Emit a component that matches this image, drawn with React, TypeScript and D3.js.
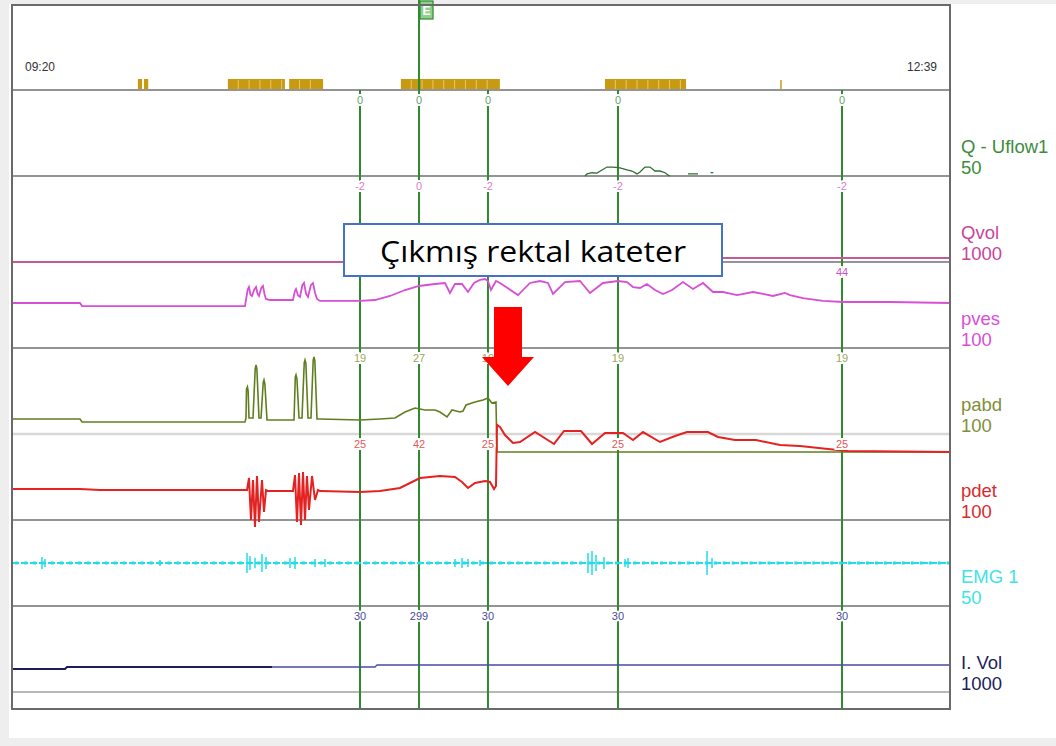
import React from "react";
import * as d3 from "d3";

// ---------- data ----------
const startLabel = "09:20";
const endLabel = "12:39";
const durationMin = 199; // minutes from 09:20 to 12:39

const channelNames = ["Q - Uflow1", "Qvol", "pves", "pabd", "pdet", "EMG 1", "I. Vol"];
const channelRanges = ["50", "1000", "100", "100", "100", "50", "1000"];
const channelMin = [0, 0, 0, 0, 0, -25, 0];
const channelMax = [50, 1000, 100, 100, 100, 25, 1000];
const channelColors = ["#3c8c3c", "#c8459a", "#d84fd8", "#7f8f3a", "#d92b2b", "#3fe3e6", "#1d1d5c"];
const traceColors = ["#2f6f2f", "#c45a96", "#d64fd6", "#5f7f1f", "#e42222", "#22dde6", "#22226e"];

const eventTimes = [73.83, 86.35, 100.98, 128.56, 176.09];
const qEventLabels = ["0", "0", "0", "0", "0"];
const qvolEventLabels = ["-2", "0", "-2", "-2", "-2"];
const pvesEventLabels = ["", "", "", "", "44"];
const pabdEventLabels = ["19", "27", "19", "19", "19"];
const pdetEventLabels = ["25", "42", "25", "25", "25"];
const ivolEventLabels = ["30", "299", "30", "30", "30"];
const eventLabelColors = ["#6a9f6a", "#e07ccc", "#cc55cc", "#9aa85a", "#e05a5a", "#000", "#4a4a96"];

const markerSegments: [number, number][] = [
  [26.7, 27.6], [28.0, 28.9], [45.8, 57.9], [58.8, 66.0], [82.5, 103.5], [125.8, 143.0],
];
const markerTicks = [163.14];

// Q - Uflow1 (ml/s), null = gap
const qData: [number, number | null][] = [
  [121.56, 0], [121.99, 1.2], [123.05, 1.9], [124.11, 1.7], [125.17, 3.5], [126.23, 5.2],
  [127.5, 5.2], [128.99, 4.7], [130.47, 3.5], [131.53, 2.9], [132.6, 1.2], [133.23, 2.3],
  [134.29, 5.2], [135.35, 5.2], [136.41, 2.9], [137.47, 2.9], [138.53, 1.9], [139.17, 0.6],
  [139.6, 0], [140.5, null], [143.42, 1.2], [145.54, 1.2], [146.5, null], [148.2, 2.0], [148.8, 2.0],
];

// Qvol (ml)
const qvolData: [number, number][] = [
  [0, 0], [121.56, 0], [128.99, 12], [135.35, 28], [143.2, 40], [150.84, 46.5], [199, 46.5],
];

// pves (cmH2O)
const pvesData: [number, number][] = [
  [0, 52.3], [14.43, 52.3], [14.85, 48.8], [49.43, 48.8], [49.64, 55.8], [50.0, 68.0], [50.28, 70.9], [50.6, 62.0], [50.92, 60.5],
  [51.4, 68.0], [51.77, 70.9], [52.1, 63.0], [52.4, 60.5], [52.9, 70.0], [53.25, 72.1], [53.6, 62.0], [53.89, 57.0], [54.74, 55.8], [59.61, 55.8],
  [60.0, 66.0], [60.25, 68.6], [60.7, 61.0], [61.1, 59.3], [61.6, 73.0], [61.95, 75.6], [62.4, 63.0], [62.8, 59.3], [63.4, 73.0], [63.86, 75.6], [64.3, 64.0], [64.71, 57.0],
  [65.34, 54.7], [73.83, 54.7], [77.01, 55.8], [80.19, 60.5], [83.38, 67.4], [86.35, 72.1],
  [89.74, 74.4], [91.86, 75.6], [92.92, 64.0], [93.98, 74.4], [95.47, 74.4], [96.74, 65.1],
  [98.01, 75.6], [99.29, 79.1], [100.35, 80.2], [100.98, 77.9], [101.62, 67.4], [102.68, 77.9],
  [103.53, 75.6], [107.35, 61.6], [109.89, 75.6], [112.02, 77.9], [113.71, 75.6], [114.77, 62.8],
  [117.32, 76.7], [120.5, 77.9], [122.62, 64.0], [125.38, 75.6], [128.56, 77.9], [130.47, 76.7],
  [131.75, 70.9], [133.23, 69.8], [134.72, 74.4], [136.41, 67.4], [138.11, 62.8], [140.02, 67.4],
  [142.35, 76.7], [144.48, 68.6], [146.6, 75.6], [148.72, 65.1], [150.84, 65.1], [153.81, 61.6],
  [157.21, 65.1], [159.33, 62.8], [161.45, 60.5], [163.99, 64.0], [165.05, 61.6], [167.81, 58.1],
  [172.05, 54.7], [176.3, 53.5], [186.27, 53.5], [199, 52.3],
];

// pabd (cmH2O)
const pabdData: [number, number][] = [
  [0, 17.4], [14.43, 17.4], [14.85, 14.0], [49.43, 14.0], [49.64, 18.6], [49.75, 52.0], [49.95, 54.7], [50.1, 50.0], [50.28, 18.6],
  [51.13, 18.6], [51.6, 76.0], [51.77, 80.2], [51.95, 76.0], [52.4, 18.6], [52.83, 18.6], [53.3, 60.0], [53.46, 62.8], [53.65, 58.0], [54.1, 16.3],
  [59.83, 16.3], [60.1, 66.0], [60.25, 68.6], [60.45, 64.0], [60.89, 18.6], [61.52, 18.6], [62.0, 83.0], [62.16, 86.0], [62.35, 82.0], [62.8, 18.6],
  [63.43, 18.6], [63.9, 86.0], [64.07, 89.5], [64.25, 85.0], [64.71, 17.4], [65.34, 17.4], [73.83, 16.3], [78.07, 17.4],
  [81.25, 18.6], [83.38, 25.6], [85.5, 30.2], [87.62, 27.9], [89.74, 27.9], [90.8, 25.6],
  [92.29, 19.8], [93.35, 27.9], [95.04, 25.6], [95.68, 26.7], [96.32, 33.7], [98.23, 37.2],
  [99.92, 39.5], [100.98, 41.9], [101.83, 36.0], [102.68, 37.2], [102.89, -20.9], [199, -20.9],
];

// pdet (cmH2O)
const pdetData: [number, number][] = [
  [0, 36.0], [14.43, 36.0], [18.67, 34.9], [49.43, 34.9], [49.86, 34.9], [50.28, 48.8], [50.7, 0],
  [51.13, 46.5], [51.55, -8.1], [51.98, 51.2], [52.4, -2.3], [53.04, 46.5], [53.46, 9.3],
  [53.89, 34.9], [54.31, 33.7], [59.61, 33.7], [60.04, 52.3], [60.46, -2.3], [60.89, 54.7],
  [61.31, -5.8], [61.74, 55.8], [62.16, 0], [62.58, 51.2], [63.01, 11.6], [63.65, 51.2],
  [64.28, 23.3], [64.92, 34.9], [65.34, 33.7], [73.83, 32.6], [78.07, 33.7], [82.31, 37.2],
  [84.44, 43.0], [86.56, 48.8], [90.8, 51.2], [93.98, 50.0], [95.47, 44.2], [96.74, 37.2],
  [98.23, 43.0], [100.35, 45.3], [101.41, 44.2], [102.26, 36.0], [102.68, 39.5], [102.89, 110.5],
  [103.53, 108.1], [104.59, 98.8], [106.29, 89.5], [107.77, 90.7], [110.96, 102.3], [114.99, 88.4],
  [117.11, 103.5], [120.72, 103.5], [123.05, 88.4], [125.81, 101.2], [129.62, 101.2], [131.75, 93.0],
  [133.87, 102.3], [137.47, 90.7], [140.66, 97.7], [143.2, 102.3], [147.66, 102.3], [149.78, 96.5],
  [153.39, 93.0], [157.84, 93.0], [162.93, 87.2], [167.17, 86.0], [173.12, 82.6], [177.36, 80.2],
  [199, 79.1],
];

// EMG bursts: [time, amplitude]
const emgBursts: [number, number][] = [
  [6.36, 3.5], [7.0, 2.3], [31.4, 1.7], [49.86, 5.8], [50.49, 4.0], [51.55, 3.0], [53.04, 5.2],
  [53.89, 3.5], [58.98, 2.9], [60.04, 3.5], [64.28, 2.3], [66.4, 2.3], [93.98, 2.3], [95.47, 2.9],
  [96.74, 2.3], [99.29, 1.7], [122.2, 5.8], [123.05, 7.0], [123.9, 4.7], [125.6, 3.5],
  [130.05, 2.3], [130.69, 2.9], [147.45, 7.0], [148.51, 2.9],
];

// I. Vol (ml)
const ivolData: [number, number][] = [
  [0, 267.5], [11.24, 267.5], [11.67, 290.8], [77.01, 290.8], [77.44, 314], [199, 314],
];
const ivolColorChange = 55.16;

const annotationText = "Çıkmış rektal kateter";

// ---------- layout ----------
const W = 1056, H = 746;
const X0 = 12, X1 = 950;
const FRAME_TOP = 5, FRAME_BOTTOM = 709;
const PANEL0 = 90, PANEL_H = 86;

const font = "'Liberation Sans', Arial, sans-serif";

export default function App() {
  const x = d3.scaleLinear().domain([0, durationMin]).range([X0, X1]);
  const panelTop = (i: number) => PANEL0 + i * PANEL_H;
  const yScale = (i: number) =>
    d3.scaleLinear().domain([channelMin[i], channelMax[i]]).range([panelTop(i) + PANEL_H, panelTop(i)]);

  const mkLine = (i: number) =>
    d3.line<[number, number]>().x((d) => x(d[0])).y((d) => yScale(i)(d[1]));

  const qLine = d3
    .line<[number, number | null]>()
    .defined((d) => d[1] !== null)
    .x((d) => x(d[0]))
    .y((d) => yScale(0)(d[1] as number));

  const ivolDark = ivolData.filter((d) => d[0] <= ivolColorChange).concat([[ivolColorChange, 290.8]]);
  const ivolLight = [[ivolColorChange, 290.8] as [number, number]].concat(ivolData.filter((d) => d[0] > ivolColorChange));

  const eventLabelSets: [number, string[]][] = [
    [0, qEventLabels], [1, qvolEventLabels], [2, pvesEventLabels], [3, pabdEventLabels],
    [4, pdetEventLabels], [6, ivolEventLabels],
  ];

  const separators = d3.range(0, 8).map((i) => panelTop(i));
  const emgY = yScale(5);

  const stripBarTop = 79, stripBarBottom = 89;

  // annotation box & arrow positioned from event 0/2
  const boxX = x(eventTimes[0]) - 16;
  const boxW = 378;
  const boxY = panelTop(2) - 38;
  const boxH = 52;
  const ax = x(eventTimes[2]) + 20;
  const arrowTop = panelTop(2) + 45;
  const arrowNeck = panelTop(3) + 9;
  const arrowTip = panelTop(3) + 38;
  const arrowPath = `M${ax - 14},${arrowTop} L${ax + 14},${arrowTop} L${ax + 14},${arrowNeck} L${ax + 26},${arrowNeck} L${ax},${arrowTip} L${ax - 26},${arrowNeck} L${ax - 14},${arrowNeck} Z`;

  return (
    <div style={{ position: "absolute", left: 0, top: 0 }}>
      <svg width={W} height={H} style={{ display: "block" }} fontFamily={font}>
        <rect x={0} y={0} width={W} height={H} fill="#ffffff" />
        <rect x={0} y={0} width={W} height={4} fill="#eeeeee" />
        <rect x={0} y={0} width={9} height={H} fill="#eeeeee" />
        <rect x={0} y={738} width={W} height={8} fill="#eeeeee" />

        {/* marker strip */}
        {markerSegments.map(([a, b], i) => (
          <g key={"seg" + i}>
            <rect x={x(a)} y={stripBarTop} width={x(b) - x(a)} height={stripBarBottom - stripBarTop} fill="#c89a12" />
            {d3.range(a + 2.2, b - 0.5, 2.3).map((t, j) => (
              <line key={j} x1={x(t)} x2={x(t)} y1={stripBarTop + 1} y2={stripBarBottom} stroke="#e8c860" strokeWidth={1} />
            ))}
          </g>
        ))}
        {markerTicks.map((t, i) => (
          <line key={"tick" + i} x1={x(t)} x2={x(t)} y1={stripBarTop + 1} y2={stripBarBottom} stroke="#c89a12" strokeWidth={1.5} />
        ))}
        <text x={X0 + 13} y={71} fontSize={12} fill="#333">{startLabel}</text>
        <text x={X1 - 13} y={71} fontSize={12} fill="#333" textAnchor="end">{endLabel}</text>

        {/* separators */}
        {separators.map((y, i) => (
          <line
            key={"sep" + i}
            x1={X0}
            x2={X1}
            y1={y}
            y2={y}
            stroke={i === 4 ? "#d8d8d8" : "#707070"}
            strokeWidth={i === 4 ? 2.5 : i === 7 ? 1 : 1.5}
          />
        ))}

        {/* event lines */}
        {eventTimes.map((t, i) => (
          <line key={"ev" + i} x1={x(t)} x2={x(t)} y1={i === 1 ? 0 : PANEL0} y2={FRAME_BOTTOM} stroke="#2f8a2f" strokeWidth={2} />
        ))}
        <rect x={x(eventTimes[1]) + 1} y={1} width={13} height={18} fill="#8fd08f" stroke="#2f8a2f" strokeWidth={1.2} />
        <text x={x(eventTimes[1]) + 7.5} y={15} fontSize={12} fontWeight="bold" fill="#ffffff" textAnchor="middle">E</text>

        {/* traces */}
        <path d={qLine(qData) || ""} fill="none" stroke={traceColors[0]} strokeWidth={1.3} />
        <path d={mkLine(1)(qvolData) || ""} fill="none" stroke={traceColors[1]} strokeWidth={1.8} />
        <path d={mkLine(2)(pvesData) || ""} fill="none" stroke={traceColors[2]} strokeWidth={1.8} />
        <path d={mkLine(3)(pabdData) || ""} fill="none" stroke={traceColors[3]} strokeWidth={1.6} />
        <path d={mkLine(4)(pdetData) || ""} fill="none" stroke={traceColors[4]} strokeWidth={2} />
        <path
          d={`M${X0},${emgY(0)}H${X1}`}
          fill="none"
          stroke={traceColors[5]}
          strokeWidth={2}
          strokeDasharray="7 2"
        />
        {d3.range(1, durationMin, 1.9).map((t, i) => (
          <rect key={"emgd" + i} x={x(t) - 1.5} y={emgY(0) - 1.5} width={3} height={3} fill={traceColors[5]} />
        ))}
        {emgBursts.map(([t, a], i) => (
          <line key={"emg" + i} x1={x(t)} x2={x(t)} y1={emgY(a)} y2={emgY(-a)} stroke={traceColors[5]} strokeWidth={1.5} />
        ))}
        <path d={mkLine(6)(ivolDark) || ""} fill="none" stroke="#1d1d5c" strokeWidth={2} />
        <path d={mkLine(6)(ivolLight) || ""} fill="none" stroke="#4a4aa8" strokeWidth={1.3} />

        {/* event labels */}
        {eventLabelSets.map(([ch, labels]) =>
          labels.map((lab, i) =>
            lab ? (
              <text
                key={"el" + ch + "-" + i}
                x={x(eventTimes[i])}
                y={panelTop(ch) + 14}
                fontSize={11}
                textAnchor="middle"
                fill={eventLabelColors[ch]}
                stroke="#ffffff"
                strokeWidth={4}
                paintOrder="stroke"
              >
                {lab}
              </text>
            ) : null
          )
        )}

        {/* frame */}
        <rect x={X0} y={FRAME_TOP} width={X1 - X0} height={FRAME_BOTTOM - FRAME_TOP} fill="none" stroke="#6a6a6a" strokeWidth={2} />

        {/* channel labels */}
        {channelNames.map((name, i) => (
          <g key={"cl" + i} fill={channelColors[i]} fontSize={18.5}>
            <text x={X1 + 11} y={panelTop(i) + 63}>{name}</text>
            <text x={X1 + 11} y={panelTop(i) + 84}>{channelRanges[i]}</text>
          </g>
        ))}

        {/* annotation */}
        <rect x={boxX} y={boxY} width={boxW} height={boxH} fill="#ffffff" stroke="#4472c4" strokeWidth={2} />
        <text
          x={boxX + boxW / 2}
          y={boxY + 38}
          fontSize={30}
          fontFamily="'Open Sans', 'Noto Sans', sans-serif"
          textAnchor="middle"
          fill="#000"
          textLength={306}
          lengthAdjust="spacingAndGlyphs"
        >
          {annotationText}
        </text>
        <path d={arrowPath} fill="#ff0000" />
      </svg>
    </div>
  );
}
